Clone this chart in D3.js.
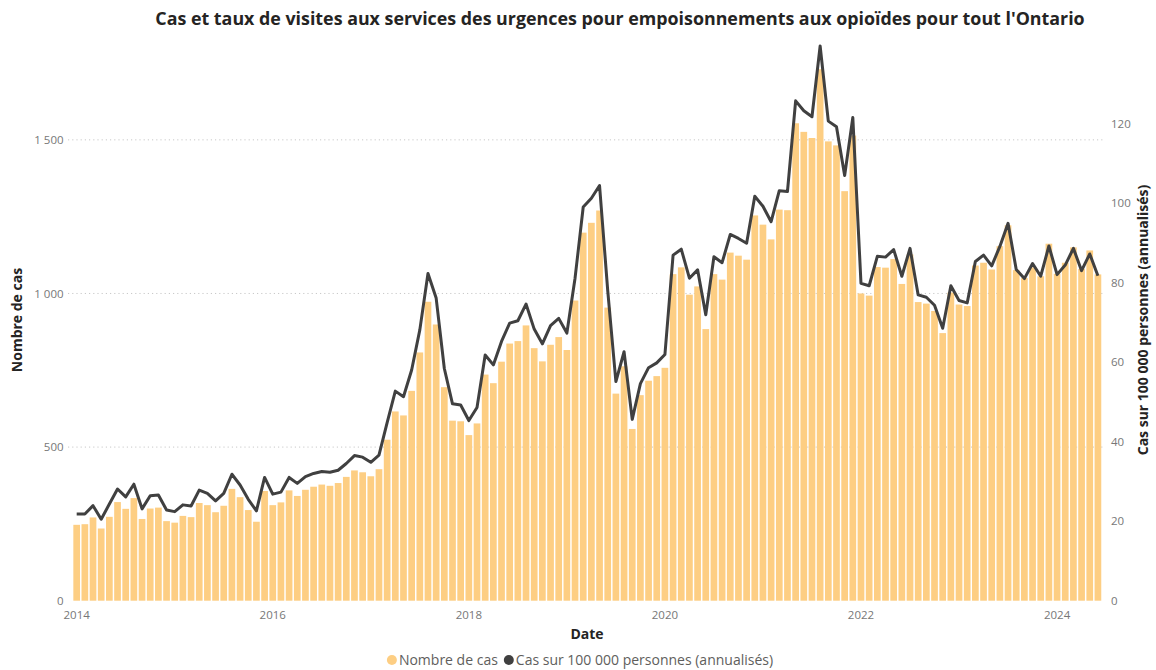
<!DOCTYPE html>
<html>
<head>
    <meta charset="utf-8">
    <style type="text/css">
        body {
            margin: 0;
            background: #fff;
            font-family: "Segoe UI", "Open Sans", sans-serif;
        }
    </style>
    <title>Urgences opioïdes Ontario</title>
</head>
<body>
    <script src="https://d3js.org/d3.v7.min.js"></script>
    <div id="my_dataviz"></div>

    <script>
        // Monthly categories: Jan 2014 to Jun 2024
        var firstMonth = new Date(2014, 0, 1),
            endMonth = new Date(2024, 6, 1);
        var months = d3.timeMonth.range(firstMonth, endMonth);

        // Number of cases (bars)
        var cases = [
            247, 249, 271, 235, 273, 321, 299, 334, 266, 300, 303, 259,
            254, 276, 272, 318, 311, 288, 309, 364, 337, 295, 257, 357,
            311, 320, 359, 341, 361, 371, 378, 374, 383, 403, 424, 418,
            405, 428, 524, 616, 603, 683, 808, 973, 899, 695, 586, 584,
            539, 577, 736, 708, 778, 837, 845, 896, 822, 779, 833, 858,
            816, 977, 1198, 1230, 1270, 954, 674, 763, 559, 669, 716, 731,
            758, 1063, 1085, 996, 1023, 884, 1063, 1045, 1133, 1123, 1110, 1254,
            1224, 1176, 1273, 1271, 1554, 1526, 1506, 1730, 1495, 1482, 1333, 1514,
            1000, 993, 1086, 1084, 1112, 1031, 1127, 972, 967, 943, 871, 1003,
            964, 959, 1091, 1100, 1078, 1154, 1222, 1076, 1050, 1085, 1056, 1162,
            1064, 1100, 1150, 1080, 1140, 1062
        ];

        // Cases per 100 000 people, annualised (line)
        var rates = [
            21.8, 21.8, 23.9, 20.5, 24.3, 28.1, 26.1, 29.3, 23.1, 26.4, 26.6, 22.8,
            22.4, 24.1, 23.8, 27.8, 27.0, 25.1, 27.0, 31.8, 29.1, 25.5, 22.6, 31.0,
            26.8, 27.3, 31.0, 29.5, 31.2, 32.0, 32.5, 32.3, 32.8, 34.5, 36.5, 36.1,
            34.8, 36.6, 44.8, 52.7, 51.3, 58.0, 68.1, 82.3, 76.1, 58.4, 49.5, 49.2,
            45.3, 48.6, 61.8, 59.3, 65.2, 69.8, 70.4, 74.6, 68.3, 64.6, 69.2, 71.0,
            67.3, 81.1, 99.0, 101.2, 104.4, 78.0, 55.1, 62.6, 45.6, 54.6, 58.6, 59.8,
            61.9, 86.9, 88.4, 81.1, 83.2, 71.9, 86.5, 85.0, 92.1, 91.1, 89.9, 101.7,
            99.2, 95.3, 103.1, 102.9, 125.7, 123.2, 121.7, 139.5, 120.6, 119.2, 106.9, 121.5,
            79.8, 79.2, 86.6, 86.4, 88.3, 81.6, 88.6, 76.9, 76.3, 74.3, 68.5, 79.2,
            75.5, 74.9, 85.3, 86.9, 84.2, 89.1, 94.9, 83.3, 81.0, 84.8, 81.6, 89.2,
            82.0, 84.4, 88.6, 83.0, 87.2, 81.7
        ];

        // Tick labels
        var yearTicks = [2014, 2016, 2018, 2020, 2022, 2024];
        var leftTicks = [0, 500, 1000, 1500];
        var rightTicks = [0, 20, 40, 60, 80, 100, 120];

        var data = months.map(function(m, i) {
            return { month: m, cases: cases[i], rate: rates[i] };
        });

        var width = 1156,
            height = 670;
        var plot = { left: 72.6, right: 1102, top: 40, bottom: 600.7 };

        var barColor = "#FDCE83",
            lineColor = "#404040",
            tickColor = "#777777",
            titleColor = "#252423";

        var svg = d3.select("#my_dataviz")
            .append("svg")
            .attr("width", width)
            .attr("height", height);

        // French number format: "1 500"
        var fr = d3.formatLocale({ decimal: ",", thousands: " ", grouping: [3], currency: ["", " $"] });
        var fmt = fr.format(",d");

        // Scales
        var x = d3.scaleBand()
            .domain(months)
            .range([plot.left, plot.right])
            .paddingInner(0.18)
            .paddingOuter(0.09);

        var yLeft = d3.scaleLinear()
            .domain([0, 1825])
            .range([plot.bottom, plot.top]);

        var yRight = d3.scaleLinear()
            .domain([0, 141])
            .range([plot.bottom, plot.top]);

        // Dotted gridlines
        svg.append("g")
            .selectAll("line")
            .data(leftTicks.filter(function(d) { return d > 0; }))
            .enter()
            .append("line")
            .attr("x1", 68)
            .attr("x2", 1104)
            .attr("y1", function(d) { return yLeft(d); })
            .attr("y2", function(d) { return yLeft(d); })
            .attr("stroke", "#c8c8c8")
            .attr("stroke-width", 1)
            .attr("stroke-dasharray", "1.2,3");

        // Bars
        svg.append("g")
            .selectAll("rect")
            .data(data)
            .enter()
            .append("rect")
            .attr("x", function(d) { return x(d.month); })
            .attr("width", x.bandwidth())
            .attr("y", function(d) { return yLeft(d.cases); })
            .attr("height", function(d) { return plot.bottom - yLeft(d.cases); })
            .attr("fill", barColor);

        // Rate line
        svg.append("path")
            .datum(data)
            .attr("fill", "none")
            .attr("stroke", lineColor)
            .attr("stroke-width", 3)
            .attr("stroke-linejoin", "round")
            .attr("d", d3.line()
                .x(function(d) { return x(d.month) + x.bandwidth() / 2; })
                .y(function(d) { return yRight(d.rate); }));

        // X axis
        var xAxis = d3.axisBottom(x)
            .tickValues(yearTicks.map(function(y) { return new Date(y, 0, 1); }))
            .tickFormat(d3.timeFormat("%Y"))
            .tickSize(0)
            .tickPadding(10);
        svg.append("g")
            .attr("transform", "translate(0," + plot.bottom + ")")
            .call(xAxis);

        // Left axis
        svg.append("g")
            .attr("transform", "translate(" + plot.left + ",0)")
            .call(d3.axisLeft(yLeft).tickValues(leftTicks).tickFormat(fmt).tickSize(0).tickPadding(9));

        // Right axis
        svg.append("g")
            .attr("transform", "translate(" + plot.right + ",0)")
            .call(d3.axisRight(yRight).tickValues(rightTicks).tickFormat(fmt).tickSize(0).tickPadding(9));

        svg.selectAll(".domain").remove();
        svg.selectAll(".tick text")
            .attr("fill", tickColor)
            .style("font-family", "'Segoe UI', 'Open Sans', sans-serif")
            .style("font-size", "11.5px");

        // Title
        var title = svg.append("text")
            .attr("x", 620)
            .attr("y", 25)
            .attr("text-anchor", "middle")
            .attr("fill", titleColor)
            .style("font-weight", "bold")
            .style("font-size", "17px")
            .text("Cas et taux de visites aux services des urgences pour empoisonnements aux opioïdes pour tout l'Ontario");
        // shrink/grow the font so the title spans like the original
        var tl = title.node().getComputedTextLength();
        title.style("font-size", (17 * 930 / tl).toFixed(2) + "px");

        // Axis titles
        svg.append("text")
            .attr("x", 587)
            .attr("y", 639)
            .attr("text-anchor", "middle")
            .attr("fill", titleColor)
            .style("font-weight", "bold")
            .style("font-size", "14px")
            .text("Date");

        svg.append("text")
            .attr("transform", "translate(22,320) rotate(-90)")
            .attr("text-anchor", "middle")
            .attr("fill", titleColor)
            .style("font-weight", "bold")
            .style("font-size", "14px")
            .text("Nombre de cas");

        svg.append("text")
            .attr("transform", "translate(1148,320) rotate(-90)")
            .attr("text-anchor", "middle")
            .attr("fill", titleColor)
            .style("font-weight", "bold")
            .style("font-size", "14px")
            .text("Cas sur 100 000 personnes (annualisés)");

        // Legend
        var legendItems = [
            { label: "Nombre de cas", color: barColor },
            { label: "Cas sur 100 000 personnes (annualisés)", color: lineColor }
        ];
        var legend = svg.append("g");
        var lx = 0;
        legendItems.forEach(function(item) {
            legend.append("circle")
                .attr("cx", lx + 5)
                .attr("cy", 0)
                .attr("r", 5)
                .attr("fill", item.color);
            var t = legend.append("text")
                .attr("x", lx + 12)
                .attr("y", 5)
                .attr("fill", "#605E5C")
                .style("font-size", "14px")
                .text(item.label);
            lx += 12 + t.node().getComputedTextLength() + 6;
        });
        legend.attr("transform", "translate(" + (580 - (lx - 6) / 2) + ",660)");
    </script>
</body>
</html>
